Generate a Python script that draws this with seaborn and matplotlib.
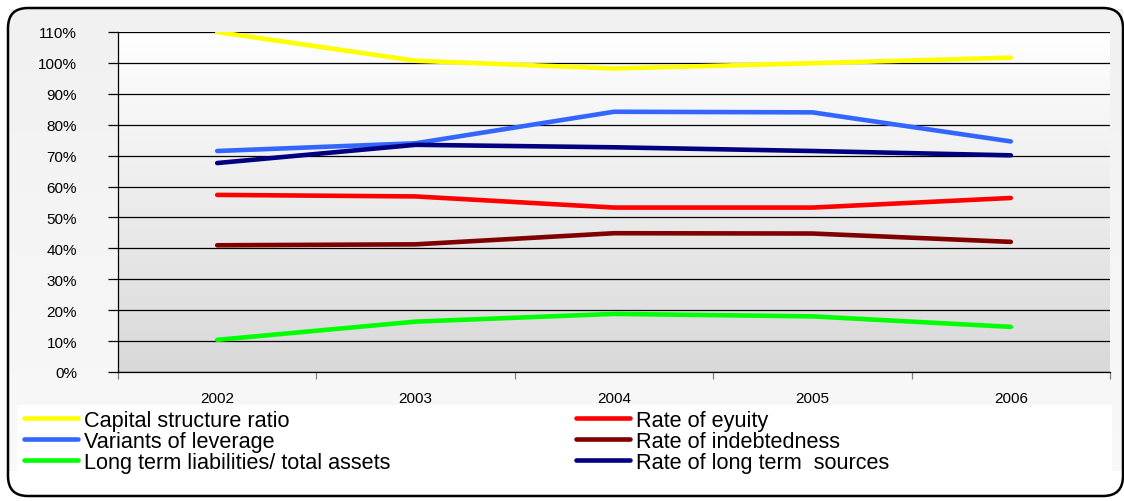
import numpy as np
import pandas as pd
import seaborn as sns
import matplotlib
matplotlib.use("Agg")
import matplotlib.pyplot as plt
from matplotlib.lines import Line2D
from matplotlib.patches import FancyBboxPatch, Rectangle
from matplotlib.transforms import IdentityTransform
from matplotlib.ticker import FixedLocator, FuncFormatter

# ---- data (percent) ----
years = [2002, 2003, 2004, 2005, 2006]
capital_structure_ratio = [110.0, 100.7, 98.2, 99.9, 101.7]
variants_of_leverage = [71.5, 74.0, 84.2, 84.0, 74.6]
long_term_liab_assets = [10.4, 16.3, 18.8, 18.0, 14.6]
rate_of_equity = [57.3, 56.8, 53.2, 53.2, 56.3]
rate_of_indebtedness = [41.0, 41.3, 44.9, 44.8, 42.1]
rate_long_term_sources = [67.6, 73.5, 72.7, 71.5, 70.1]

series_names = [
    "Capital structure ratio",
    "Variants of leverage",
    "Long term liabilities/ total assets",
    "Rate of eyuity",
    "Rate of indebtedness",
    "Rate of long term  sources",
]
series_values = [
    capital_structure_ratio,
    variants_of_leverage,
    long_term_liab_assets,
    rate_of_equity,
    rate_of_indebtedness,
    rate_long_term_sources,
]
series_colors = ["#ffff00", "#3366ff", "#00ff00", "#ff0000", "#800000", "#000080"]
y_ticks = list(range(0, 111, 10))

df = pd.DataFrame(
    [(y, v, n) for n, vals in zip(series_names, series_values) for y, v in zip(years, vals)],
    columns=["year", "value", "series"],
)
palette = dict(zip(series_names, series_colors))

sns.set_theme(style="white")
plt.rcParams["font.family"] = ["Liberation Sans", "DejaVu Sans"]
plt.rcParams["text.color"] = "black"

W, H = 1124, 502
fig = plt.figure(figsize=(W / 100, H / 100), dpi=100)
fig.patch.set_facecolor("white")


def fx(px):
    return px / W


def fy(py):
    return 1 - py / H


# chart area background: soft grey gradient with white band below
bg = fig.add_axes([0, 0, 1, 1], zorder=-10)
bg.set_axis_off()
grad = np.linspace(0, 1, 256).reshape(-1, 1)
top_c = np.array([0.945, 0.945, 0.945])
bot_c = np.array([0.975, 0.975, 0.975])
img = top_c + (bot_c - top_c) * grad[..., None]
bg.imshow(img, extent=[fx(9), fx(1123), fy(472), fy(10)], aspect="auto",
          transform=bg.transAxes, interpolation="bicubic")
bg.set_xlim(0, 1)
bg.set_ylim(0, 1)

# rounded outer frame
frame = FancyBboxPatch((8, H - 497), 1115, 488,
                       boxstyle="round,pad=0,rounding_size=20",
                       transform=IdentityTransform(), facecolor="none",
                       edgecolor="black", linewidth=1.8, zorder=5)
fig.patches.append(frame)

# legend box
fig.patches.append(Rectangle((fx(17), fy(473)), fx(1112) - fx(17), fy(406) - fy(473),
                             transform=fig.transFigure, facecolor="white",
                             edgecolor="none", zorder=1))

# plot area
ax = fig.add_axes([fx(118), fy(373), fx(1110) - fx(118), fy(33) - fy(373)])
ax.set_facecolor("none")
pgrad = np.linspace(0, 1, 256).reshape(-1, 1)
p_top = np.array([1.0, 1.0, 1.0])
p_bot = np.array([0.85, 0.85, 0.85])
pimg = p_top + (p_bot - p_top) * pgrad[..., None]
ax.imshow(pimg, extent=[0, 1, 0, 1], transform=ax.transAxes, aspect="auto",
          zorder=0, interpolation="bicubic")

sns.lineplot(data=df, x="year", y="value", hue="series", palette=palette,
             hue_order=series_names, linewidth=3.3, legend=False, ax=ax,
             zorder=3)

ax.set_xlim(years[0] - 0.5, years[-1] + 0.5)
ax.set_ylim(0, 110)
ax.set_xlabel("")
ax.set_ylabel("")

ax.yaxis.set_major_locator(FixedLocator(y_ticks))
ax.yaxis.set_major_formatter(FuncFormatter(lambda v, p: f"{v:.0f}%"))
ax.yaxis.grid(True, color="black", linewidth=0.9, zorder=1)
ax.set_axisbelow(True)
ax.tick_params(axis="y", which="major", direction="out", length=7.5, width=0.9,
               color="black", left=True, pad=22, labelsize=11, labelcolor="black")

ax.xaxis.set_major_locator(FixedLocator(years))
ax.xaxis.set_minor_locator(FixedLocator([y - 0.5 for y in years] + [years[-1] + 0.5]))
ax.set_xticklabels([str(y) for y in years])
ax.tick_params(axis="x", which="major", length=0, pad=14, labelsize=11, labelcolor="black")
ax.tick_params(axis="x", which="minor", direction="out", length=5, width=0.9,
               color="#808080", bottom=True)

for side in ["top", "right"]:
    ax.spines[side].set_visible(False)
for side in ["left", "bottom"]:
    ax.spines[side].set_visible(True)
    ax.spines[side].set_color("black")
    ax.spines[side].set_linewidth(0.9)

# legend, two columns
handles = [Line2D([], [], color=c, linewidth=3.3) for c in series_colors]
common = dict(frameon=False, loc="upper left", fontsize=15.6, handlelength=2.5,
              handletextpad=0.25, borderpad=0, borderaxespad=0, labelspacing=0.0,
              labelcolor="black")
leg1 = fig.legend(handles[:3], series_names[:3], bbox_to_anchor=(fx(24), fy(411)), **common)
leg2 = fig.legend(handles[3:], series_names[3:], bbox_to_anchor=(fx(576), fy(411)), **common)
for lg in (leg1, leg2):
    lg.set_zorder(6)

fig.savefig("out.png", dpi=100)
